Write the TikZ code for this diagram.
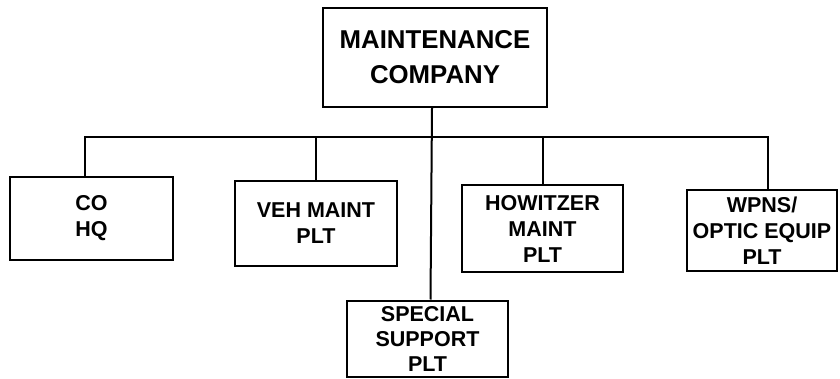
\documentclass[tikz,border=0pt]{standalone}
\usepackage{fontspec}
\setmainfont{Liberation Sans}
\begin{document}
\begin{tikzpicture}[x=1pt,y=-1pt,
  unit/.style={draw,line width=2pt,inner sep=0pt,align=center,
    font=\fontsize{21.5}{26}\selectfont\bfseries},
  topunit/.style={unit,font=\fontsize{25.8}{35}\selectfont\bfseries},
  link/.style={line width=2pt}]
\useasboundingbox (0,0) rectangle (840,379);
\node[topunit,minimum width=224pt,minimum height=99pt] (top) at (435,57.5) {MAINTENANCE\\COMPANY};
\node[unit,minimum width=163pt,minimum height=83pt] (co) at (91.5,218.5) {CO\\HQ};
\node[unit,minimum width=162pt,minimum height=85pt] (veh) at (316,223.5) {VEH MAINT\\PLT};
\node[unit,minimum width=161pt,minimum height=87pt] (how) at (542.5,228.5) {HOWITZER\\MAINT\\PLT};
\node[unit,minimum width=150pt,minimum height=81pt] (wpns) at (762,230.5) {WPNS/\\OPTIC EQUIP\\PLT};
\node[unit,minimum width=161pt,minimum height=76pt,font=\fontsize{21.5}{25}\selectfont\bfseries] (spec) at (427.5,338.5) {SPECIAL\\SUPPORT\\PLT};
\coordinate (busL) at (85,137);
\coordinate (busR) at (768,137);
\draw[link] (busL |- co.north) -- (busL) -- (busR) -- (busR |- wpns.north);
\draw[link] (veh.north) -- (veh.north |- busL);
\draw[link] (how.north) -- (how.north |- busL);
\draw[link] ([xshift=-3pt]top.south) -- ([xshift=3pt]spec.north);
\end{tikzpicture}
\end{document}
